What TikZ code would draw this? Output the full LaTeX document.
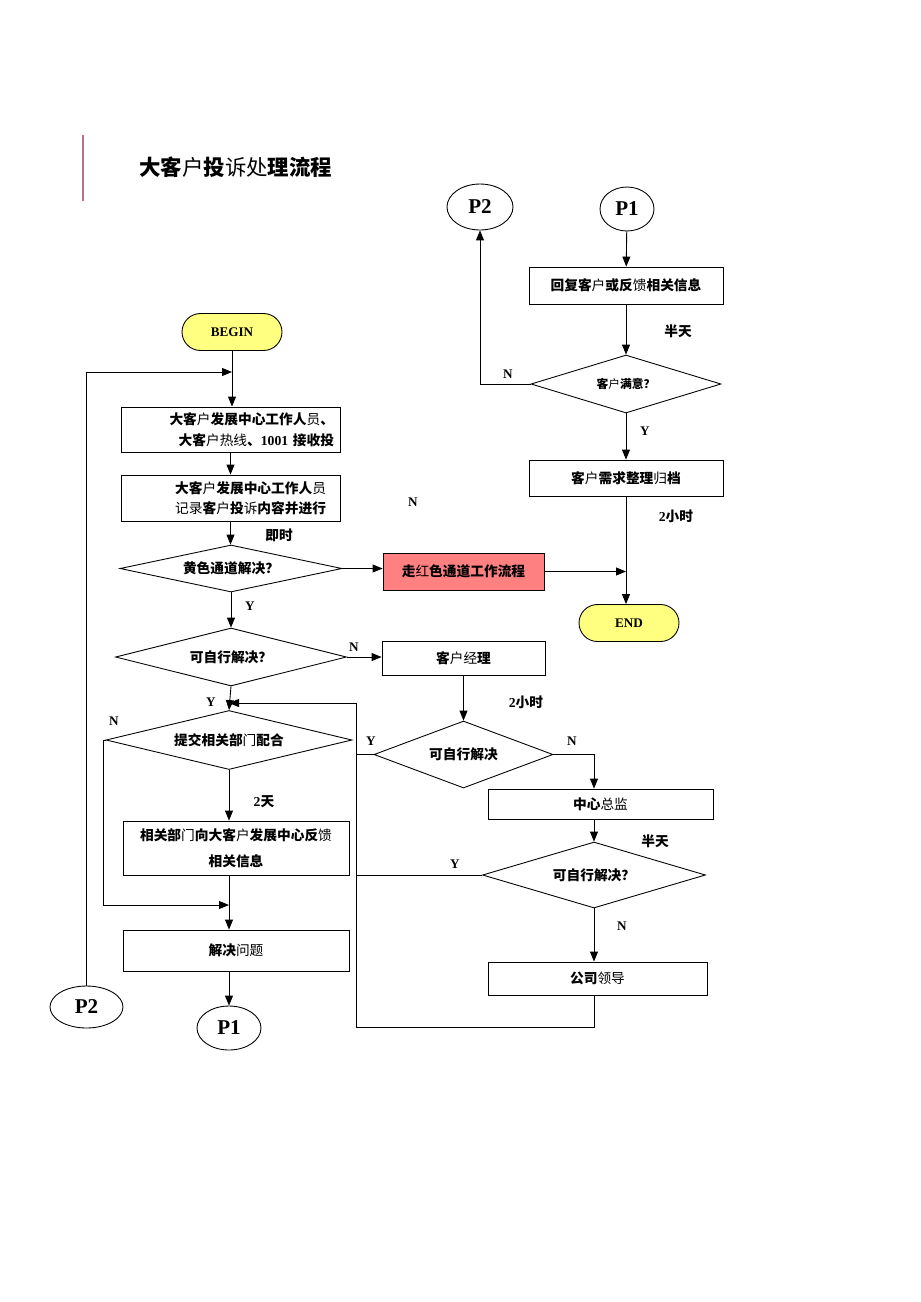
\documentclass[tikz,border=0pt]{standalone}
\usepackage{fontspec}
\setmainfont{Liberation Serif}
\newfontfamily\cjk{Noto Sans CJK SC}
\usetikzlibrary{shapes.geometric,arrows.meta}
\definecolor{pillyellow}{RGB}{255,255,128}
\definecolor{redway}{RGB}{255,128,128}
\definecolor{titlebar}{RGB}{190,110,140}
\newcommand{\boxfont}{\cjk\bfseries\fontsize{7.8}{12}\selectfont}
\newcommand{\lite}[1]{{\mdseries #1}}
\newcommand{\digits}[1]{{\rmfamily #1}}
\begin{document}
\begin{tikzpicture}[x=0.02cm,y=-0.02cm,line width=0.5pt,>={Triangle[length=2mm,width=1.6mm]},
  box/.style={draw,rectangle,inner sep=1pt,font=\boxfont,align=center},
  ask/.style={draw,diamond,aspect=4,inner sep=0pt,font=\boxfont},
  pill/.style={draw,rectangle,rounded corners=0.37cm,fill=pillyellow,minimum width=2cm,minimum height=0.74cm,font=\rmfamily\bfseries\fontsize{7.5}{9}\selectfont},
  jump/.style={draw,ellipse,inner sep=0pt,font=\rmfamily\bfseries\fontsize{12}{14}\selectfont},
  yn/.style={font=\rmfamily\bfseries\fontsize{7.5}{9}\selectfont},
  wait/.style={font=\boxfont}]
  \useasboundingbox (0,0) rectangle (920,1302);

  \draw[titlebar,line width=0.8pt] (83,135) -- (83,201);
  \node[anchor=west,font=\cjk\bfseries\fontsize{12.2}{14}\selectfont] (title) at (133,167) {大客\lite{户}投\lite{诉处}理流程};

  \node[jump,minimum width=1.32cm,minimum height=0.92cm] (p2top) at (480,207) {P2};
  \node[jump,minimum width=1.08cm,minimum height=0.88cm] (p1top) at (627,209) {P1};
  \node[box,minimum width=3.88cm,minimum height=0.74cm] (reply) at (626,285.5) {回复客\lite{户}或反\lite{馈}相关信息};
  \node[ask,minimum width=3.8cm,minimum height=1.16cm,font=\cjk\bfseries\fontsize{6.7}{8}\selectfont] (sat) at (626,384) {客\lite{户}满意？};
  \node[box,minimum width=3.88cm,minimum height=0.72cm] (archive) at (626,478) {客\lite{户}需求整理\lite{归}档};
  \node[pill] (endn) at (629,623) {END};
  \node[box,fill=redway,minimum width=3.22cm,minimum height=0.74cm] (red) at (463.5,571.5) {走\lite{红}色通道工作流程};

  \node[pill] (begin) at (232,332) {BEGIN};
  \node[box,text width=4.14cm,inner xsep=0.12cm,align=right,minimum height=0.9cm] (recv) at (230.5,429.5) {大客\lite{户}发展中心工作人\lite{员}、\\大客\lite{户热线}、\digits{1001} 接收投};
  \node[box,text width=3.82cm,inner xsep=0.28cm,align=right,minimum height=0.92cm,font=\cjk\bfseries\fontsize{7.8}{11.3}\selectfont] (record) at (230.5,498) {大客\lite{户}发展中心工作人\lite{员}\\\lite{记录}客\lite{户}投\lite{诉}内容并进行};
  \node[ask,minimum width=4.44cm,minimum height=0.94cm] (yellow) at (231,568.5) {黄色通道解决？};
  \node[ask,minimum width=4.62cm,minimum height=1.16cm] (self1) at (231,657) {可自行解决？};
  \node[box,minimum width=3.26cm,minimum height=0.68cm] (mgr) at (463.5,658) {客\lite{户经}理};
  \node[ask,minimum width=4.92cm,minimum height=1.18cm] (coop) at (229,740) {提交相关部\lite{门}配合};
  \node[ask,minimum width=3.58cm,minimum height=1.34cm] (self2) at (463.5,754.5) {可自行解决};
  \node[box,minimum width=4.5cm,minimum height=0.6cm] (director) at (600.5,804) {中心\lite{总监}};
  \node[ask,minimum width=4.46cm,minimum height=1.32cm] (self3) at (594,875) {可自行解决？};
  \node[box,minimum width=4.38cm,minimum height=0.66cm] (leader) at (597.5,978.5) {公司\lite{领导}};
  \node[box,minimum width=4.52cm,minimum height=1.08cm,font=\cjk\bfseries\fontsize{7.8}{14.7}\selectfont] (feedback) at (236,848) {相关部\lite{门}向大客\lite{户}发展中心反\lite{馈}\\相关信息};
  \node[box,minimum width=4.52cm,minimum height=0.82cm] (solve) at (236,950.5) {解决\lite{问题}};
  \node[jump,minimum width=1.28cm,minimum height=0.88cm] (p1bot) at (229,1028) {P1};
  \node[jump,minimum width=1.46cm,minimum height=0.84cm] (p2bot) at (86.5,1007) {P2};

  \coordinate (loopin) at (232,372);
  \coordinate (nback) at (229,905);
  \coordinate (yback) at (229,703);
  \coordinate (bus) at (356,1027);

  \draw[->] (p1top) -- (reply);
  \draw[->] (reply) -- (sat);
  \draw[->] (sat) -- (archive);
  \draw[->] (archive) -- (archive |- endn.north);
  \draw[->] (sat.west) -| (p2top.south);
  \draw[->] (red.east) -- (red.east -| archive);

  \draw[->] (begin.south) -- (begin.south |- recv.north);
  \draw[->] (p2bot.north) |- (loopin);
  \draw[->] (recv) -- (record);
  \draw[->] (record.south) -- (record.south |- yellow.north);
  \draw[->] (yellow.east) -- (yellow.east -| red.west);
  \draw[->] (yellow.south) -- (self1.north);
  \draw[->] (self1.east) -- (self1.east -| mgr.west);
  \draw[->] (self1.south) -- (coop.north);
  \draw[->] (coop.south) -- (coop.south |- feedback.north);
  \draw[->] (coop.south |- feedback.south) -- (coop.south |- solve.north);
  \draw[->] (coop.west) -- ++(-2,0) |- (nback);
  \draw[->] (coop.south |- solve.south) -- (p1bot.north);

  \draw[->] (mgr) -- (self2);
  \draw (self2.west) -- (self2.west -| bus);
  \draw[->] (self2.east) -| (self3.north |- director.north);
  \draw[->] (self3.north |- director.south) -- (self3.north);
  \draw (self3.west) -- (self3.west -| bus);
  \draw[->] (self3.south) -- (self3.south |- leader.north);
  \draw[->] (self3.south |- leader.south) |- (bus) |- (yback);

  \node[yn] (n1) at (508,374) {N};
  \node[yn] (y1) at (645,431) {Y};
  \node[wait] (t1) at (678,331) {半天};
  \node[wait] (t2) at (676,516) {\digits{2}小时};
  \node[yn] (n2) at (413,502) {N};
  \node[wait] (t3) at (279,535) {即时};
  \node[yn] (y2) at (250,606) {Y};
  \node[yn] (n3) at (354,647) {N};
  \node[yn] (y3) at (211,702) {Y};
  \node[yn] (n4) at (114,721) {N};
  \node[wait] (t4) at (264,802) {\digits{2}天};
  \node[wait] (t5) at (526,702) {\digits{2}小时};
  \node[yn] (y4) at (371,741) {Y};
  \node[yn] (n5) at (572,741) {N};
  \node[wait] (t6) at (655,841) {半天};
  \node[yn] (y5) at (455,864) {Y};
  \node[yn] (n6) at (622,926) {N};
\end{tikzpicture}
\end{document}
